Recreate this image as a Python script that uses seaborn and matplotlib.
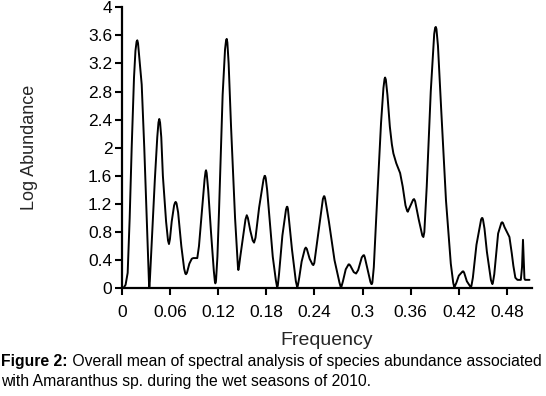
import matplotlib
matplotlib.use("Agg")
import matplotlib.pyplot as plt
import seaborn as sns
import pandas as pd

freq = [0.0000, 0.0016, 0.0045, 0.0071, 0.0096, 0.0121, 0.0150, 0.0168, 0.0182, 0.0191,
        0.0200, 0.0215, 0.0246, 0.0278, 0.0308, 0.0326, 0.0336, 0.0341, 0.0347, 0.0358,
        0.0375, 0.0410, 0.0440, 0.0455, 0.0465, 0.0475, 0.0490, 0.0510, 0.0550, 0.0574,
        0.0586, 0.0598, 0.0620, 0.0650, 0.0662, 0.0670, 0.0680, 0.0700, 0.0740, 0.0775,
        0.0790, 0.0798, 0.0810, 0.0840, 0.0870, 0.0889, 0.0939, 0.0960, 0.0990, 0.1030,
        0.1042, 0.1048, 0.1056, 0.1075, 0.1110, 0.1145, 0.1158, 0.1164, 0.1172, 0.1190,
        0.1210, 0.1255, 0.1285, 0.1298, 0.1306, 0.1314, 0.1330, 0.1360, 0.1410, 0.1435,
        0.1446, 0.1451, 0.1458, 0.1475, 0.1500, 0.1540, 0.1556, 0.1570, 0.1600, 0.1630,
        0.1647, 0.1665, 0.1710, 0.1765, 0.1778, 0.1784, 0.1792, 0.1810, 0.1840, 0.1880,
        0.1918, 0.1932, 0.1937, 0.1943, 0.1958, 0.2000, 0.2045, 0.2056, 0.2062, 0.2069,
        0.2085, 0.2120, 0.2168, 0.2182, 0.2187, 0.2193, 0.2210, 0.2240, 0.2280, 0.2292,
        0.2305, 0.2340, 0.2375, 0.2386, 0.2398, 0.2450, 0.2505, 0.2518, 0.2524, 0.2532,
        0.2550, 0.2580, 0.2650, 0.2712, 0.2727, 0.2732, 0.2738, 0.2755, 0.2790, 0.2825,
        0.2835, 0.2848, 0.2890, 0.2919, 0.2945, 0.2990, 0.3010, 0.3019, 0.3028, 0.3060,
        0.3098, 0.3110, 0.3115, 0.3122, 0.3140, 0.3170, 0.3230, 0.3260, 0.3274, 0.3281,
        0.3290, 0.3310, 0.3340, 0.3365, 0.3384, 0.3420, 0.3468, 0.3500, 0.3535, 0.3556,
        0.3564, 0.3575, 0.3630, 0.3642, 0.3655, 0.3700, 0.3745, 0.3758, 0.3770, 0.3800,
        0.3850, 0.3893, 0.3905, 0.3913, 0.3921, 0.3940, 0.3980, 0.4040, 0.4100, 0.4130,
        0.4140, 0.4145, 0.4151, 0.4170, 0.4200, 0.4247, 0.4257, 0.4267, 0.4300, 0.4340,
        0.4350, 0.4353, 0.4358, 0.4375, 0.4420, 0.4478, 0.4488, 0.4494, 0.4501, 0.4520,
        0.4550, 0.4600, 0.4614, 0.4619, 0.4625, 0.4642, 0.4690, 0.4730, 0.4740, 0.4750,
        0.4770, 0.4800, 0.4831, 0.4860, 0.4880, 0.4905, 0.4931, 0.4973, 0.4988, 0.5000,
        0.5006, 0.5018, 0.5027, 0.5081]
log_abundance = [0.00, 0.00, 0.05, 0.22, 1.00, 2.00, 3.00, 3.38, 3.51, 3.53,
                 3.49, 3.30, 2.90, 2.00, 1.00, 0.40, 0.10, 0.02, 0.10, 0.35,
                 0.75, 1.55, 2.15, 2.36, 2.41, 2.36, 2.15, 1.60, 0.95, 0.68,
                 0.63, 0.70, 0.95, 1.18, 1.22, 1.23, 1.21, 1.08, 0.60, 0.28,
                 0.21, 0.20, 0.22, 0.35, 0.42, 0.43, 0.43, 0.60, 1.00, 1.55,
                 1.66, 1.68, 1.64, 1.40, 0.80, 0.25, 0.10, 0.07, 0.10, 0.45,
                 1.10, 2.75, 3.40, 3.53, 3.55, 3.50, 3.20, 2.30, 1.00, 0.50,
                 0.30, 0.26, 0.30, 0.45, 0.65, 0.98, 1.04, 1.00, 0.82, 0.68,
                 0.65, 0.72, 1.15, 1.55, 1.60, 1.60, 1.57, 1.40, 1.00, 0.45,
                 0.12, 0.03, 0.02, 0.04, 0.20, 0.75, 1.12, 1.16, 1.16, 1.13,
                 0.95, 0.55, 0.10, 0.03, 0.02, 0.04, 0.15, 0.38, 0.56, 0.58,
                 0.56, 0.42, 0.34, 0.33, 0.36, 0.80, 1.27, 1.31, 1.31, 1.28,
                 1.16, 0.95, 0.40, 0.08, 0.02, 0.01, 0.03, 0.10, 0.27, 0.34,
                 0.34, 0.32, 0.23, 0.21, 0.26, 0.44, 0.47, 0.47, 0.44, 0.28,
                 0.09, 0.06, 0.06, 0.08, 0.30, 1.00, 2.35, 2.85, 2.98, 3.00,
                 2.97, 2.75, 2.30, 2.05, 1.92, 1.78, 1.64, 1.45, 1.18, 1.10,
                 1.09, 1.12, 1.26, 1.27, 1.24, 0.98, 0.75, 0.73, 0.80, 1.45,
                 2.80, 3.62, 3.71, 3.72, 3.69, 3.45, 2.55, 1.25, 0.35, 0.08,
                 0.03, 0.02, 0.03, 0.08, 0.18, 0.24, 0.24, 0.22, 0.10, 0.03,
                 0.02, 0.02, 0.04, 0.15, 0.62, 0.98, 1.00, 1.00, 0.98, 0.85,
                 0.52, 0.12, 0.07, 0.06, 0.08, 0.20, 0.78, 0.93, 0.94, 0.93,
                 0.87, 0.80, 0.73, 0.50, 0.32, 0.15, 0.12, 0.12, 0.30, 0.69,
                 0.50, 0.14, 0.12, 0.12]

x_ticks = [0, 0.06, 0.12, 0.18, 0.24, 0.30, 0.36, 0.42, 0.48]
x_tick_labels = ["0", "0.06", "0.12", "0.18", "0.24", "0.3", "0.36", "0.42", "0.48"]
y_ticks = [0, 0.4, 0.8, 1.2, 1.6, 2.0, 2.4, 2.8, 3.2, 3.6, 4.0]
y_tick_labels = ["0", "0.4", "0.8", "1.2", "1.6", "2", "2.4", "2.8", "3.2", "3.6", "4"]

sns.set_style("ticks")
plt.rcParams["font.family"] = ["Liberation Sans", "DejaVu Sans"]

df = pd.DataFrame({"Frequency": freq, "Log Abundance": log_abundance})

fig = plt.figure(figsize=(5.46, 3.96), dpi=100)
ax = fig.add_axes([0.2234, 0.272, 0.7506, 0.7096])
sns.lineplot(data=df, x="Frequency", y="Log Abundance", ax=ax,
             color="black", linewidth=1.4, estimator=None, sort=False)

ax.set_xlim(0, 0.511)
ax.set_ylim(0, 4)
ax.set_xticks(x_ticks)
ax.set_xticklabels(x_tick_labels, fontsize=12.5)
ax.set_yticks(y_ticks)
ax.set_yticklabels(y_tick_labels, fontsize=12.5)
ax.tick_params(axis="both", direction="out", length=5, width=1.5, colors="black")
ax.tick_params(axis="x", pad=7)
ax.tick_params(axis="y", pad=2)
for s in ["top", "right"]:
    ax.spines[s].set_visible(False)
for s in ["left", "bottom"]:
    ax.spines[s].set_linewidth(1.6)
    ax.spines[s].set_color("black")
ax.set_xlabel("Frequency", fontsize=14, labelpad=9)
ax.set_ylabel("Log Abundance", fontsize=13, labelpad=36)

t1 = fig.text(0.002, 1 - 366 / 396, "Figure 2:", fontsize=11.3, fontweight="bold",
              ha="left", va="baseline", color="black")
fig.canvas.draw()
bb = t1.get_window_extent(renderer=fig.canvas.get_renderer())
x2 = bb.x1 / fig.bbox.width
fig.text(x2, 1 - 366 / 396,
         " Overall mean of spectral analysis of species abundance associated",
         fontsize=11.3, ha="left", va="baseline", color="black")
fig.text(0.002, 1 - 386 / 396,
         "with Amaranthus sp. during the wet seasons of 2010.",
         fontsize=11.3, ha="left", va="baseline", color="black")

fig.savefig("out.png", dpi=100)
